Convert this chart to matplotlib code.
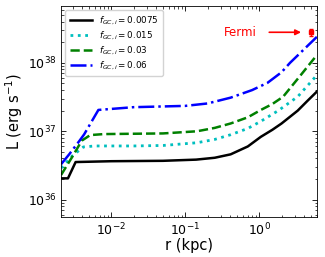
import matplotlib
matplotlib.use('Agg')
import matplotlib.pyplot as plt

# black solid, f = 0.0075
r_a = [0.0021, 0.0026, 0.0033, 0.01, 0.05, 0.14, 0.25, 0.41, 0.7, 1.05, 1.5, 2.0, 3.3, 4.5, 6.0]
L_a = [2.05e36, 2.05e36, 3.55e36, 3.65e36, 3.7e36, 3.85e36, 4.1e36, 4.6e36, 6.0e36, 8.3e36,
       1.05e37, 1.3e37, 2.0e37, 2.8e37, 3.8e37]

# cyan dotted, f = 0.015
r_b = [0.0021, 0.003, 0.0042, 0.006, 0.02, 0.05, 0.144, 0.25, 0.41, 0.7, 1.05, 1.8, 3.3, 6.0]
L_b = [2.9e36, 4.4e36, 5.9e36, 6.1e36, 6.1e36, 6.2e36, 6.8e36, 7.6e36, 8.9e36, 1.1e37,
       1.4e37, 2.0e37, 3.2e37, 6.6e37]

# green dashed, f = 0.03
r_c = [0.0021, 0.003, 0.004, 0.0052, 0.008, 0.05, 0.144, 0.25, 0.41, 0.7, 1.05, 1.5, 2.1, 3.5, 6.0]
L_c = [2.3e36, 4.3e36, 7.3e36, 8.8e36, 9.1e36, 9.3e36, 1.0e37, 1.12e37, 1.3e37, 1.6e37,
       2.05e37, 2.5e37, 3.2e37, 6.3e37, 1.3e38]

# blue dash-dot, f = 0.06
r_d = [0.0021, 0.0027, 0.0037, 0.0043, 0.0067, 0.02, 0.1, 0.2, 0.41, 0.8, 1.29, 2.0, 2.6, 6.0]
L_d = [3.3e36, 4.6e36, 7.2e36, 9.0e36, 2.05e37, 2.25e37, 2.35e37, 2.55e37, 3.1e37, 4.0e37,
       5.1e37, 7.3e37, 1.0e38, 2.4e38]

fermi_r = 5.0
fermi_L = 2.8e38
fermi_err = 0.3e38

fig = plt.figure(figsize=(3.25, 2.57), dpi=100)
ax = fig.add_axes([0.188, 0.156, 0.787, 0.821])

ax.plot(r_a, L_a, color='black', ls='-', lw=1.8, label=r'$f_{GC,i} = 0.0075$')
ax.plot(r_b, L_b, color='c', ls=':', lw=2.0, label=r'$f_{GC,i} = 0.015$')
ax.plot(r_c, L_c, color='green', ls='--', lw=1.8, label=r'$f_{GC,i} = 0.03$')
ax.plot(r_d, L_d, color='blue', ls='-.', lw=1.8, label=r'$f_{GC,i} = 0.06$')

ax.errorbar([fermi_r], [fermi_L], yerr=[fermi_err], fmt='s', color='red',
            ms=3, capsize=1.5, lw=1)
ax.annotate('', xy=(4.0, 2.8e38), xytext=(1.25, 2.8e38),
            arrowprops=dict(arrowstyle='-|>', color='red', lw=1.2, mutation_scale=8))
ax.text(0.55, 2.8e38, 'Fermi', color='red', fontsize=8.5, va='center', ha='center')

ax.set_xscale('log')
ax.set_yscale('log')
ax.set_xlim(0.0021, 6.0)
ax.set_ylim(5.6e35, 6.8e38)
ax.set_xlabel('r (kpc)', fontsize=10.5, labelpad=0)
ax.set_ylabel(r'L (erg s$^{-1}$)', fontsize=10.5, labelpad=2)
ax.tick_params(which='both', direction='in', top=True, right=True, labelsize=9)
ax.tick_params(which='major', length=3.5, width=0.6)
ax.tick_params(which='minor', length=1.8, width=0.5)
for s in ax.spines.values():
    s.set_linewidth(0.6)

ax.legend(loc='upper left', fontsize=6.3, handlelength=2.5, borderpad=0.5,
          labelspacing=0.3, framealpha=1, edgecolor='lightgray')

fig.savefig('out.png', dpi=100)
